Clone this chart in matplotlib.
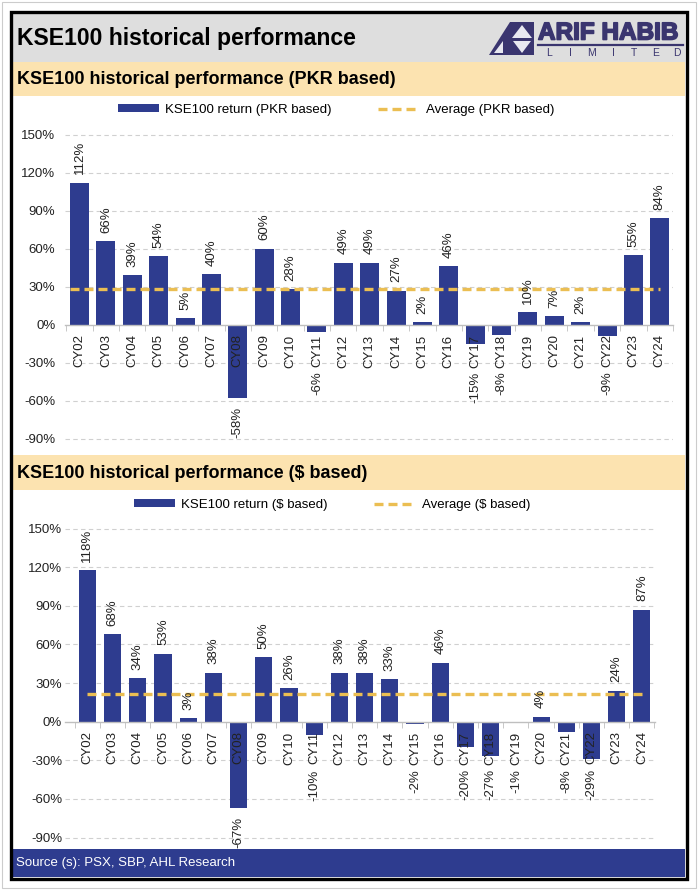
import numpy as np
import matplotlib
matplotlib.use("Agg")
import matplotlib.pyplot as plt
import matplotlib.patheffects as pe
from matplotlib.patches import Rectangle, Polygon
from matplotlib.lines import Line2D

plt.rcParams["font.family"] = ["Liberation Sans", "DejaVu Sans"]

W, H = 698, 890

YEARS = ["CY02", "CY03", "CY04", "CY05", "CY06", "CY07", "CY08", "CY09",
         "CY10", "CY11", "CY12", "CY13", "CY14", "CY15", "CY16", "CY17",
         "CY18", "CY19", "CY20", "CY21", "CY22", "CY23", "CY24"]
RET_PKR = [112, 66, 39, 54, 5, 40, -58, 60, 28, -6, 49, 49, 27, 2, 46, -15,
           -8, 10, 7, 2, -9, 55, 84]
RET_USD = [118, 68, 34, 53, 3, 38, -67, 50, 26, -10, 38, 38, 33, -2, 46, -20,
           -27, -1, 4, -8, -29, 24, 87]
AVG_PKR = 27.8
AVG_USD = 21.6
YTICKS = [-90, -60, -30, 0, 30, 60, 90, 120, 150]

BLUE = "#2E3C8F"
GOLD = "#EBBE52"
PEACH = "#FCE3B0"
GREY_BAND = "#DEDEDE"
NAVY = "#3A356F"
GRID = "#D0D0D0"
AXIS = "#BFBFBF"


def fbox(x0, y0, x1, y1):
    # pixel box (top-left origin) -> figure fraction [l, b, w, h]
    return [x0 / W, 1 - y1 / H, (x1 - x0) / W, (y1 - y0) / H]


def frect(x0, y0, x1, y1, **kw):
    l, b, w, h = fbox(x0, y0, x1, y1)
    fig.add_artist(Rectangle((l, b), w, h, transform=fig.transFigure, **kw))


def ftext(x, y, s, **kw):
    return fig.text(x / W, 1 - y / H, s, **kw)


fig = plt.figure(figsize=(W / 100, H / 100), dpi=100)
fig.patch.set_facecolor("white")

# frame and bands
frect(2, 2, 696, 888, fill=False, ec="#CCCCCC", lw=0.8)
frect(13, 13, 685, 62, color=GREY_BAND, lw=0)
frect(13, 62, 685, 96, color=PEACH, lw=0)
frect(13, 455, 685, 490, color=PEACH, lw=0)
frect(13, 849, 685, 877, color=BLUE, lw=0)
frect(11.5, 11.5, 686.5, 878.5, fill=False, ec="black", lw=2.4)

ftext(17, 39, "KSE100 historical performance", fontsize=16.6, fontweight="bold",
      va="center")
ftext(17, 79, "KSE100 historical performance (PKR based)", fontsize=13,
      fontweight="bold", va="center")
ftext(17, 473, "KSE100 historical performance ($ based)", fontsize=13,
      fontweight="bold", va="center")
ftext(16, 863, "Source (s): PSX, SBP, AHL Research", fontsize=9.5,
      color="white", va="center")

# logo
def fpoly(pts, **kw):
    pts = [(x / W, 1 - y / H) for x, y in pts]
    fig.add_artist(Polygon(pts, closed=True, transform=fig.transFigure, **kw))

fpoly([(489, 55), (510, 22), (534, 22), (534, 55)], color=NAVY, lw=0)
fpoly([(522, 25), (512, 38), (532, 38)], color="#E8E8F0", lw=0)
fpoly([(513, 41), (531, 41), (522, 53)], color="#E8E8F0", lw=0)
fpoly([(494, 53), (503, 41), (503, 53)], color="#E8E8F0", lw=0)
ftext(538, 33, "ARIF HABIB", fontsize=17.5, fontweight="bold", color=NAVY,
      va="center",
      path_effects=[pe.withStroke(linewidth=1.2, foreground=NAVY)])
fig.add_artist(Line2D([538 / W, 683 / W], [1 - 45 / H, 1 - 45 / H],
                      transform=fig.transFigure, color=NAVY, lw=1.6))
for xp, ch in zip(np.linspace(549, 677, 7), "LIMITED"):
    ftext(xp, 53, ch, fontsize=7.5, color=NAVY, ha="center", va="center")


def panel(box, xlim, vals, avg, avg_x, tag, width, ypad, legend_xy):
    ax = fig.add_axes(fbox(*box))
    ax.set_facecolor("none")
    x = np.arange(len(YEARS))
    for t in YTICKS:
        if t != 0:
            ax.axhline(t, color=GRID, lw=0.8, ls=(0, (4, 3)), zorder=0)
    bars = ax.bar(x, vals, width=width, color=BLUE, zorder=1,
                  label=f"KSE100 return ({tag} based)")
    line, = ax.plot(avg_x, [avg, avg], color=GOLD, lw=2.4,
                    ls=(0, (2.7, 1.5)), zorder=3,
                    label=f"Average ({tag} based)")
    ax.set_xlim(*xlim)
    ax.set_ylim(-100, 160)
    ax.set_yticks(YTICKS)
    ax.set_yticklabels([f"{t}%" for t in YTICKS])
    ax.tick_params(axis="y", length=0, labelsize=9.5, pad=ypad,
                   labelcolor="#222222")
    for s in ("left", "right", "top"):
        ax.spines[s].set_visible(False)
    ax.spines["bottom"].set_position(("data", 0))
    ax.spines["bottom"].set_color(AXIS)
    ax.spines["bottom"].set_linewidth(1)
    ax.set_xticks(x)
    ax.set_xticklabels(YEARS, rotation=90, fontsize=9.5, color="#222222")
    ax.tick_params(axis="x", which="major", length=0, pad=7)
    ax.set_xticks(np.arange(-0.5, len(YEARS)), minor=True)
    ax.tick_params(axis="x", which="minor", length=4, color=AXIS)
    for xi, v in zip(x, vals):
        if v >= 0:
            ax.annotate(f"{v}%", (xi, v), xytext=(0, 6),
                        textcoords="offset points", rotation=90,
                        ha="center", va="bottom", fontsize=9.5,
                        color="#222222")
        else:
            ax.annotate(f"{v}%", (xi, min(v, -30)), xytext=(0, -6.5),
                        textcoords="offset points", rotation=90,
                        ha="center", va="top", fontsize=9.5,
                        color="#222222")
    fig.legend([bars, line], [bars.get_label(), line.get_label()],
               loc="center", ncol=2, frameon=False, fontsize=9.5,
               bbox_to_anchor=(legend_xy[0] / W, 1 - legend_xy[1] / H),
               handlelength=3.1, handleheight=0.55, handletextpad=0.5,
               columnspacing=3.5)
    return ax


panel((65, 122, 673, 451.4), (-0.55, 22.5), RET_PKR, AVG_PKR, [-0.36, 22],
      "PKR", 0.72, 7, (336, 110))
panel((65, 515.8, 655, 850.4), (-0.89, 22.52), RET_USD, AVG_USD, [0, 22],
      "$", 0.68, 2, (332, 505))

fig.savefig("out.png", dpi=100)
